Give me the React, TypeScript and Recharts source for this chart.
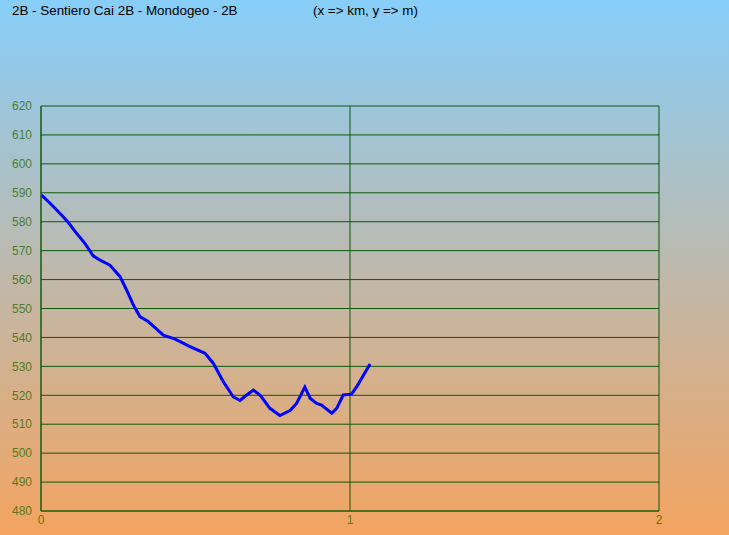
import React from "react";
import { LineChart, Line, XAxis, YAxis, CartesianGrid } from "recharts";

const distanceKm = [
  0.002, 0.035, 0.061, 0.088, 0.115, 0.142, 0.169, 0.186, 0.223, 0.256, 0.277, 0.299,
  0.32, 0.347, 0.396, 0.434, 0.46, 0.482, 0.531, 0.558, 0.59, 0.622, 0.644, 0.666,
  0.687, 0.709, 0.741, 0.773, 0.806, 0.827, 0.854, 0.871, 0.892, 0.908, 0.941, 0.957,
  0.978, 1.005, 1.022, 1.065,
];
const elevationM = [
  589.2, 585.8, 582.9, 579.8, 576.0, 572.5, 568.2, 567.0, 565.0, 561.0, 556.4, 551.2,
  547.2, 545.5, 540.8, 539.4, 538.0, 536.8, 534.5, 531.0, 524.7, 519.5, 518.2, 520.1,
  521.8, 520.1, 515.5, 513.0, 514.7, 517.2, 522.8, 519.0, 517.2, 516.6, 513.8, 515.5,
  520.1, 520.4, 523.0, 530.8,
];
const xTicks = [0, 1, 2];
const yTicks = [480, 490, 500, 510, 520, 530, 540, 550, 560, 570, 580, 590, 600, 610, 620];
const titleLeft = "2B - Sentiero Cai 2B - Mondogeo - 2B";
const titleRight = "(x => km, y => m)";

const data = distanceKm.map((km, i) => ({ km, m: elevationM[i] }));

const tickStyle = {
  fill: "#2f6a00",
  fillOpacity: 0.8,
  fontSize: 12,
  fontFamily: "'Liberation Sans', Arial, sans-serif",
};

export default function App() {
  return (
    <div
      style={{
        position: "absolute",
        left: 0,
        top: 0,
        width: 729,
        height: 535,
        background: "linear-gradient(to bottom, #87CEFA 0%, #F4A460 100%)",
        fontFamily: "'Liberation Sans', Arial, sans-serif",
        overflow: "hidden",
      }}
    >
      <div style={{ position: "absolute", left: 12, top: 3, fontSize: 13.4, color: "#000", whiteSpace: "nowrap" }}>
        {titleLeft}
      </div>
      <div style={{ position: "absolute", left: 313, top: 3, fontSize: 13.4, color: "#000", whiteSpace: "nowrap" }}>
        {titleRight}
      </div>
      <LineChart
        width={729}
        height={535}
        data={data}
        margin={{ top: 106, right: 70, bottom: 0, left: 0 }}
        style={{ position: "absolute", left: 0, top: 0 }}
      >
        <CartesianGrid stroke="#0a5a0a" strokeWidth={1} fill="none" />
        <XAxis
          dataKey="km"
          type="number"
          domain={[0, 2]}
          ticks={xTicks}
          height={24}
          tickLine={false}
          tickSize={0}
          tickMargin={4}
          axisLine={{ stroke: "#2a5a00", strokeWidth: 1 }}
          tick={tickStyle}
          interval={0}
        />
        <YAxis
          dataKey="m"
          type="number"
          domain={[480, 620]}
          ticks={yTicks}
          width={41}
          tickLine={false}
          tickSize={0}
          tickMargin={9}
          axisLine={{ stroke: "#1a5a10", strokeWidth: 1 }}
          tick={tickStyle}
          interval={0}
        />
        <Line
          type="linear"
          dataKey="m"
          stroke="#0000FF"
          strokeWidth={3}
          dot={false}
          isAnimationActive={false}
        />
      </LineChart>
    </div>
  );
}
